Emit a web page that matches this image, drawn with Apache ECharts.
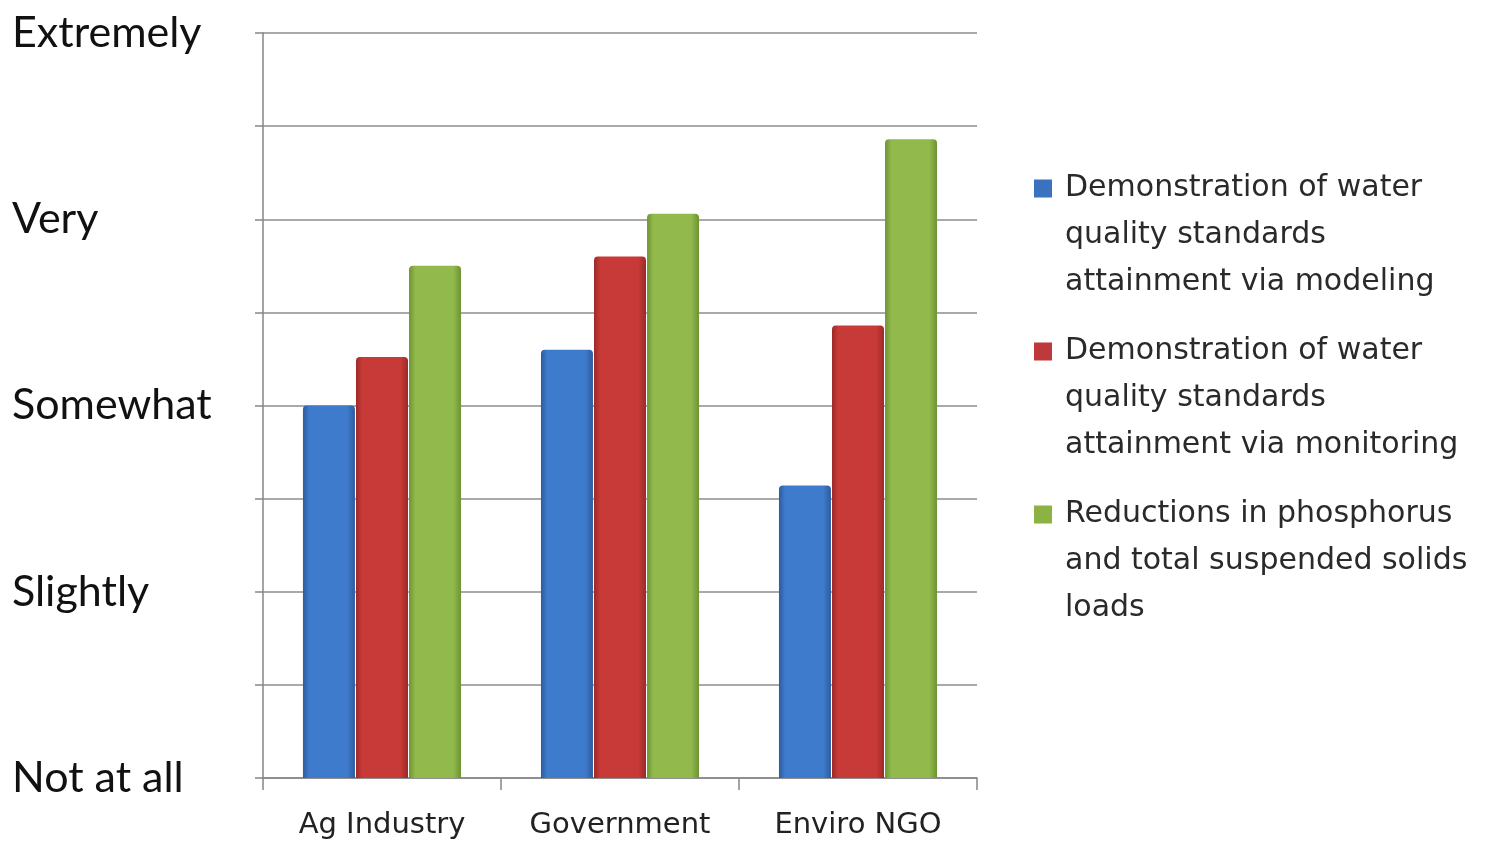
<!DOCTYPE html>
<html><head><meta charset="utf-8">
<script src="https://cdn.jsdelivr.net/npm/echarts@6/dist/echarts.min.js"></script>
<style>html,body{margin:0;padding:0;background:#fff}#c{width:1493px;height:845px}</style>
</head><body><div id="c"></div>
<script>
const categories = ['Ag Industry', 'Government', 'Enviro NGO'];
const seriesNames = [
  'Demonstration of water\nquality standards\nattainment via modeling',
  'Demonstration of water\nquality standards\nattainment via monitoring',
  'Reductions in phosphorus\nand total suspended solids\nloads'
];
const modeling = [2.0, 2.30, 1.57];
const monitoring = [2.26, 2.80, 2.43];
const reductions = [2.75, 3.03, 3.43];
const levelLabels = ['Not at all', 'Slightly', 'Somewhat', 'Very', 'Extremely'];

function grad(edge, mid) {
  return new echarts.graphic.LinearGradient(0, 0, 1, 0, [
    {offset: 0, color: edge}, {offset: 0.12, color: mid}, {offset: 0.85, color: mid}, {offset: 1, color: edge}
  ]);
}
const styles = [
  {edge: '#2c5c9e', mid: '#3f7bcc', icon: '#3a72c0'},
  {edge: '#9c2a28', mid: '#c83a38', icon: '#c0393a'},
  {edge: '#6e9333', mid: '#92b94b', icon: '#8db244'}
];
const datas = [modeling, monitoring, reductions];
// square at top of a tall icon box so it lines up with the first text line
const topSquareIcon = 'path://M1,1L19,1L19,19L1,19Z M0,0L0.01,0L0.01,0.01Z M0,114L0.01,114L0.01,114.01L0,114.01Z M20,114L20.01,114L20.01,114.01Z';

const chart = echarts.init(document.getElementById('c'));
chart.setOption({
  animation: false,
  grid: {left: 263, right: 516, top: 33, bottom: 67},
  legend: {
    orient: 'vertical', left: 1028, top: 160,
    itemWidth: 20, itemHeight: 114, itemGap: 22,
    icon: topSquareIcon,
    data: seriesNames.map((n, i) => ({name: n, itemStyle: {color: styles[i].icon}})),
    textStyle: {fontFamily: 'DejaVu Sans', fontSize: 30, color: '#2a2a2a', lineHeight: 47, padding: [0, 0, 0, 7]}
  },
  xAxis: {
    type: 'category', data: categories,
    axisLine: {lineStyle: {color: '#868686', width: 1.5}},
    axisTick: {show: true, length: 12, lineStyle: {color: '#868686', width: 1.5}},
    axisLabel: {fontFamily: 'DejaVu Sans', fontSize: 29, color: '#222', margin: 33}
  },
  yAxis: {
    type: 'value', min: 0, max: 4, interval: 0.5,
    axisLine: {show: true, lineStyle: {color: '#868686', width: 1.5}},
    axisTick: {show: true, length: 8, lineStyle: {color: '#868686', width: 1.5}},
    splitLine: {lineStyle: {color: '#8c8c8c', width: 1.5}},
    axisLabel: {
      fontFamily: 'Lato', fontSize: 43, color: '#111', align: 'left', margin: 251,
      padding: [0, 0, 18, 0],
      formatter: v => Number.isInteger(v) ? levelLabels[v] : ''
    }
  },
  series: datas.map((d, i) => ({
    name: seriesNames[i], type: 'bar', data: d,
    barWidth: 52, barGap: '2%',
    itemStyle: {color: grad(styles[i].edge, styles[i].mid), borderRadius: [4, 4, 0, 0]}
  }))
});
</script></body></html>
